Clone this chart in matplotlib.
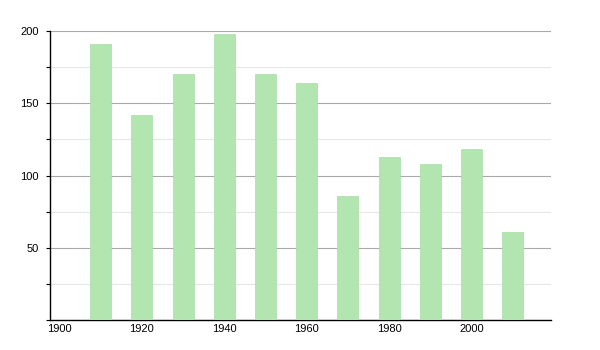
import numpy as np
import matplotlib
matplotlib.use("Agg")
import matplotlib.pyplot as plt
from matplotlib.ticker import MultipleLocator

plt.rcParams['font.family'] = ['Liberation Sans', 'DejaVu Sans']

# data
years = [1910, 1920, 1930, 1940, 1950, 1960, 1970, 1980, 1990, 2000, 2010]
values = [191, 142, 170, 198, 170, 164, 86, 113, 108, 118, 61]
xticks = [1900, 1920, 1940, 1960, 1980, 2000]
yticks = [50, 100, 150, 200]

fig = plt.figure(figsize=(6, 3.5), dpi=100)
ax = fig.add_axes([0.0833, 0.0857, 0.835, 0.8257])

ax.bar(years, values, width=5.1, color="#b2e5b0", edgecolor="#a8dca6", linewidth=0.5, zorder=3)

ax.set_xlim(1897.7, 2019.3)
ax.set_ylim(0, 200)

ax.set_yticks(yticks)
ax.yaxis.set_minor_locator(MultipleLocator(25))
ax.grid(axis="y", which="major", color="#a9a9a9", linewidth=0.8, zorder=1)
ax.grid(axis="y", which="minor", color="#e6e6e6", linewidth=0.8, zorder=1)

ax.set_xticks(xticks)
ax.tick_params(axis="x", length=0, labelsize=8, pad=3)
ax.tick_params(axis="y", which="major", length=3, width=0.8, labelsize=8, pad=5)
ax.tick_params(axis="y", which="minor", length=3, width=0.8)

for s in ["top", "right"]:
    ax.spines[s].set_visible(False)
ax.spines["left"].set_linewidth(1)
ax.spines["bottom"].set_linewidth(1)

fig.savefig("out.png", dpi=100)
